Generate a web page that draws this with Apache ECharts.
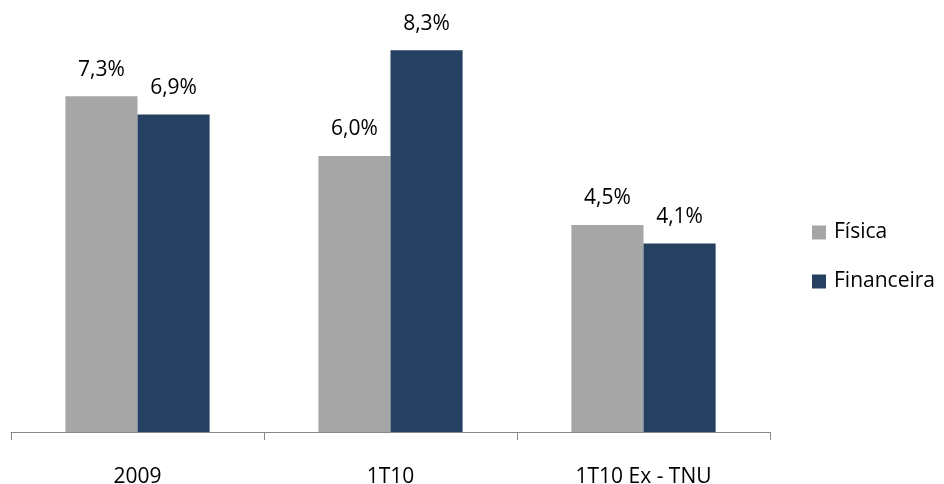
<!DOCTYPE html>
<html>
<head>
<meta charset="utf-8">
<script src="https://cdn.jsdelivr.net/npm/echarts@6/dist/echarts.min.js"></script>
<style>
  html, body { margin: 0; padding: 0; background: #ffffff; }
  #chart { width: 944px; height: 484px; }
</style>
</head>
<body>
<div id="chart"></div>
<script>
// Categories and series values (percent)
const categories = ['2009', '1T10', '1T10 Ex - TNU'];
const fisica = [7.3, 6.0, 4.5];
const financeira = [6.9, 8.3, 4.1];
const seriesNames = ['Física', 'Financeira'];

const FONT = '"Open Sans", "Noto Sans", sans-serif';

const fmt = (p) => p.value.toFixed(1).replace('.', ',') + '%';

const chart = echarts.init(document.getElementById('chart'), null, { renderer: 'canvas' });

const labelStyle = {
  show: true,
  position: 'top',
  distance: 16,
  formatter: fmt,
  color: '#000000',
  fontFamily: FONT,
  fontSize: 21
};

chart.setOption({
  animation: false,
  backgroundColor: '#ffffff',
  grid: { left: 11, right: 174, top: 18, bottom: 52, containLabel: false, outerBoundsMode: 'none' },
  legend: {
    orient: 'vertical',
    left: 807,
    top: 217,
    itemWidth: 14,
    itemHeight: 14,
    itemGap: 28,
    icon: 'rect',
    data: seriesNames,
    textStyle: { fontFamily: FONT, fontSize: 21, color: '#000000', padding: [0, 0, 0, 3] }
  },
  xAxis: {
    type: 'category',
    data: categories,
    boundaryGap: true,
    axisLine: { show: true, lineStyle: { color: '#868686', width: 1 } },
    axisTick: { show: true, length: 8, lineStyle: { color: '#868686' } },
    axisLabel: { margin: 35, fontFamily: FONT, fontSize: 21, color: '#000000' }
  },
  yAxis: {
    type: 'value',
    min: 0,
    max: 9,
    show: false,
    splitLine: { show: false }
  },
  series: [
    {
      name: seriesNames[0],
      type: 'bar',
      data: fisica,
      barGap: '0%',
      barCategoryGap: '43%',
      itemStyle: { color: '#A6A6A6' },
      label: labelStyle
    },
    {
      name: seriesNames[1],
      type: 'bar',
      data: financeira,
      barGap: '0%',
      barCategoryGap: '43%',
      itemStyle: { color: '#254061' },
      label: labelStyle
    }
  ]
});
</script>
</body>
</html>
